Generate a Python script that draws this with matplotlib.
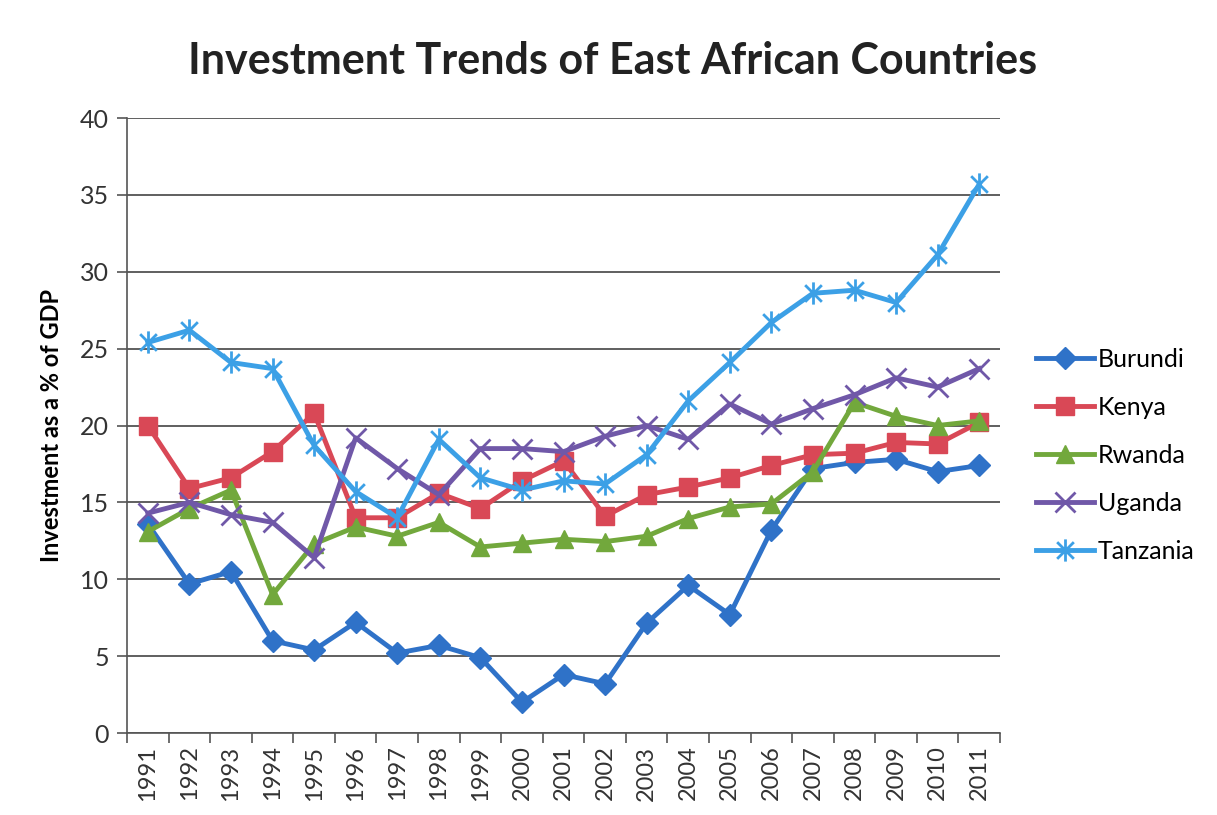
import numpy as np
import matplotlib
matplotlib.use("Agg")
import matplotlib.pyplot as plt
from matplotlib.path import Path

plt.rcParams['font.family'] = ['Lato', 'DejaVu Sans']

years = list(range(1991, 2012))
burundi = [13.6, 9.7, 10.5, 6.0, 5.4, 7.2, 5.2, 5.7, 4.9, 2.0, 3.8,
           3.2, 7.15, 9.6, 7.7, 13.2, 17.2, 17.6, 17.8, 17.0, 17.4]
kenya = [20.0, 15.9, 16.6, 18.3, 20.8, 14.0, 14.0, 15.6, 14.6, 16.4, 17.7,
         14.1, 15.5, 16.0, 16.6, 17.4, 18.1, 18.2, 18.9, 18.8, 20.2]
rwanda = [13.1, 14.6, 15.8, 9.0, 12.3, 13.4, 12.8, 13.7, 12.1, 12.35, 12.6,
          12.45, 12.8, 13.95, 14.7, 14.9, 17.0, 21.5, 20.6, 20.0, 20.3]
uganda = [14.3, 15.0, 14.2, 13.7, 11.4, 19.2, 17.2, 15.5, 18.5, 18.5, 18.3,
          19.3, 20.0, 19.1, 21.4, 20.1, 21.1, 22.0, 23.1, 22.5, 23.7]
tanzania = [25.4, 26.2, 24.1, 23.7, 18.7, 15.7, 14.0, 19.1, 16.6, 15.8, 16.4,
            16.2, 18.1, 21.6, 24.1, 26.7, 28.6, 28.8, 28.0, 31.1, 35.7]

names = ['Burundi', 'Kenya', 'Rwanda', 'Uganda', 'Tanzania']
series = [burundi, kenya, rwanda, uganda, tanzania]
colors = ['#2F72C8', '#D94856', '#72A83C', '#7058A8', '#3CA0E6']

# excel-style asterisk: vertical bar plus an X
asterisk = Path([(0, -1), (0, 1), (-0.75, -0.75), (0.75, 0.75), (-0.75, 0.75), (0.75, -0.75)],
                [Path.MOVETO, Path.LINETO, Path.MOVETO, Path.LINETO, Path.MOVETO, Path.LINETO])
markers = ['D', 's', '^', 'x', asterisk]
msizes = [11, 13, 13, 14, 16]

fig = plt.figure(figsize=(12.17, 8.15), dpi=100)
ax = fig.add_axes([0.1044, 0.1006, 0.7173, 0.7546])

for name, vals, c, m, ms in zip(names, series, colors, markers, msizes):
    if m in ('x',) or isinstance(m, Path):
        ax.plot(years, vals, color=c, lw=3.5, marker=m, markersize=ms,
                markeredgewidth=2, label=name)
    else:
        ax.plot(years, vals, color=c, lw=3.5, marker=m, markersize=ms,
                markeredgecolor=c, label=name)

ax.set_xlim(1990.5, 2011.5)
ax.set_ylim(0, 40)
ax.set_yticks(range(0, 41, 5))
ax.set_xticks(years)
ax.set_xticks(np.arange(1990.5, 2012, 1), minor=True)
ax.tick_params(axis='x', which='major', length=0, labelrotation=90, labelsize=17, pad=9)
ax.tick_params(axis='x', which='minor', length=7, width=1.2, color='#555555')
ax.tick_params(axis='y', length=7, width=1.2, color='#555555', labelsize=18, pad=6)
for lab in ax.get_xticklabels() + ax.get_yticklabels():
    lab.set_color('#333333')

ax.grid(axis='y', color='#444444', lw=1.2)
ax.set_axisbelow(True)
for s in ['top', 'right']:
    ax.spines[s].set_visible(False)
for s in ['left', 'bottom']:
    ax.spines[s].set_color('#555555')
    ax.spines[s].set_linewidth(1.2)

ax.set_ylabel('Investment as a % of GDP', fontsize=17, fontweight='bold', labelpad=12)
fig.suptitle('Investment Trends of East African Countries', fontsize=31,
             fontweight='bold', color='#222222', x=0.503, y=0.95)

leg = ax.legend(loc='center left', bbox_to_anchor=(1.015, 0.452), frameon=False,
                fontsize=18, handlelength=2.35, labelspacing=1.0, handletextpad=0.15)

fig.savefig('out.png', dpi=100)
